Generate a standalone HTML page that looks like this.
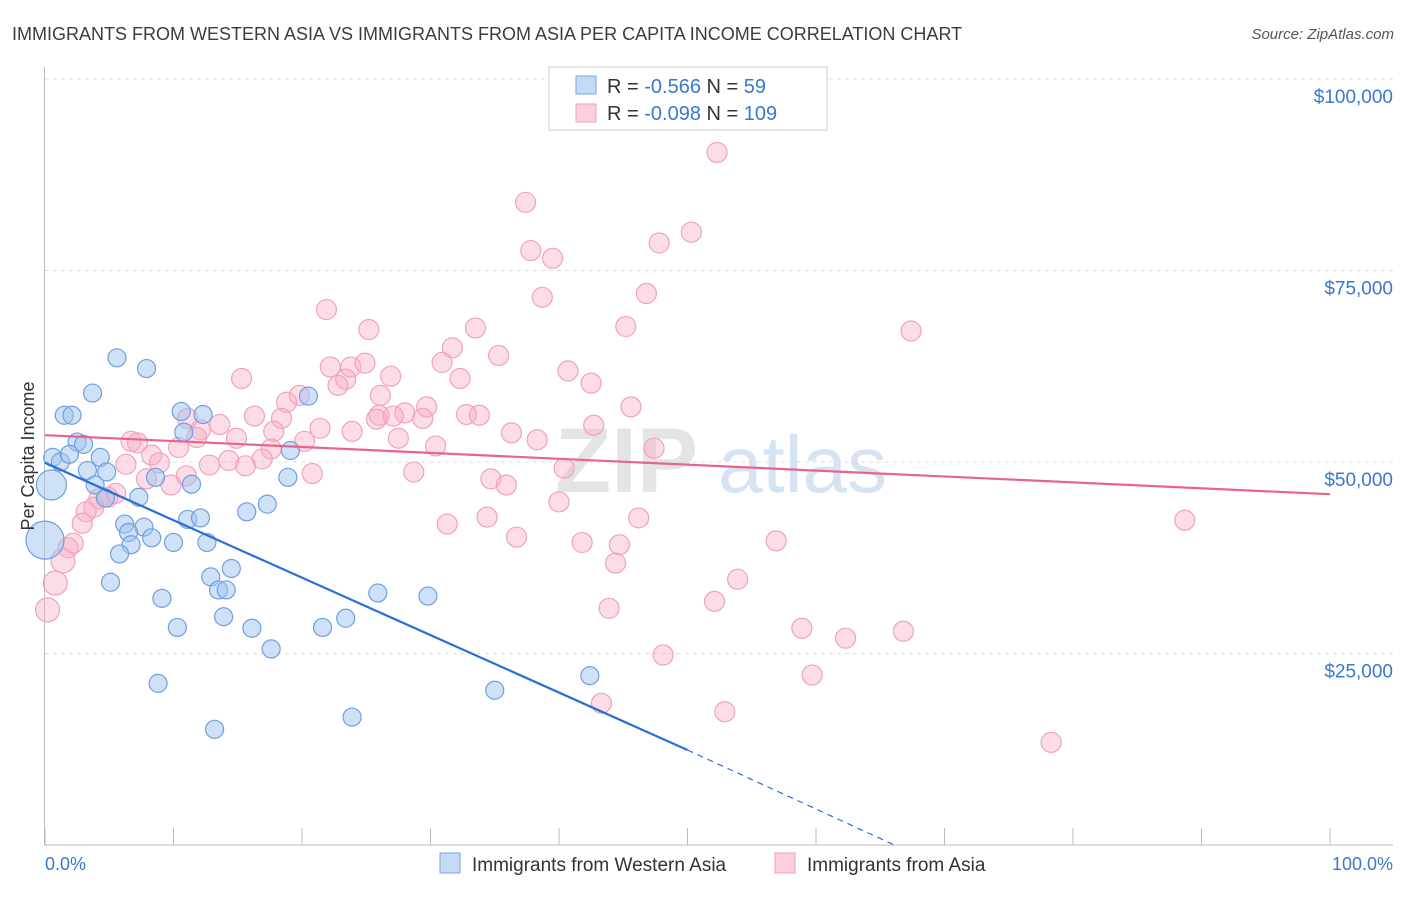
<!DOCTYPE html>
<html><head><meta charset="utf-8"><style>
body{margin:0;background:#fff;font-family:"Liberation Sans",sans-serif;}
svg text{font-family:"Liberation Sans",sans-serif;}
</style></head><body>
<svg id="chart" width="1406" height="892" xmlns="http://www.w3.org/2000/svg">
<text x="12" y="40" font-size="18" fill="#3c3c3c">IMMIGRANTS FROM WESTERN ASIA VS IMMIGRANTS FROM ASIA PER CAPITA INCOME CORRELATION CHART</text>
<text x="1394" y="39" font-size="15" fill="#555" text-anchor="end" font-style="italic">Source: ZipAtlas.com</text>
<g>
<text x="555" y="492" font-size="92" fill="#e4e4e4" font-family="Liberation Serif" font-weight="bold">ZIP</text>
<text x="718" y="492" font-size="80" fill="#d6e3f3">atlas</text>
</g>
<g id="grid"></g>
<g id="axes"></g>
<g id="pts"></g>
<g id="trend"></g>
<text transform="translate(34,456) rotate(-90)" font-size="18" fill="#333" text-anchor="middle">Per Capita Income</text>
<text x="45" y="870" font-size="18" fill="#3a78d0">0.0%</text>
<text x="1393" y="870" font-size="18" fill="#3a78d0" text-anchor="end">100.0%</text>
<g>
<rect x="549" y="67" width="278" height="63" fill="#fff" stroke="#ccc"/>
<rect x="576" y="76" width="20" height="18" fill="#c5daf5" stroke="#7aa6e0"/>
<rect x="576" y="104" width="20" height="18" fill="#fbd0dc" stroke="#f0a0b8"/>
<text x="607" y="93" font-size="20" fill="#333">R = <tspan fill="#3a78d0">-0.566</tspan>   N = <tspan fill="#3a78d0">  59</tspan></text>
<text x="607" y="120" font-size="20" fill="#333">R = <tspan fill="#3a78d0">-0.098</tspan>   N = <tspan fill="#3a78d0">109</tspan></text>
</g>
<g>
<rect x="440" y="853" width="20" height="20" fill="#c5daf5" stroke="#7aa6e0"/>
<text x="472" y="871" font-size="19" fill="#333">Immigrants from Western Asia</text>
<rect x="775" y="853" width="20" height="20" fill="#fbd0dc" stroke="#f0a0b8"/>
<text x="807" y="871" font-size="19" fill="#333">Immigrants from Asia</text>
</g>
</svg>
<script>
const yTicks=[25000,50000,75000,100000];
const yTickLabels=["$25,000","$50,000","$75,000","$100,000"];
const xTicks=[0,10,20,30,40,50,60,70,80,90,100];
const blueX=[5.6,7.9,3.7,1.5,2.1,10.6,12.3,20.5,2.5,3.0,0.6,1.2,1.9,4.3,4.8,3.3,10.8,19.1,18.9,8.6,11.4,0.5,3.9,4.7,7.3,17.3,15.7,11.1,12.1,6.2,7.7,6.5,8.3,6.7,10.0,12.6,0,5.8,5.1,12.9,14.5,13.5,14.1,9.1,25.9,29.8,13.9,23.4,10.3,16.1,21.6,17.6,8.8,42.4,35.0,23.9,13.2];
const blueY=[63.6,62.2,59.0,56.1,56.1,56.6,56.2,58.6,52.6,52.3,50.6,50.0,51.0,50.6,48.7,48.9,53.9,51.5,48.0,48.0,47.1,47.0,47.0,45.3,45.4,44.5,43.5,42.5,42.7,41.9,41.5,40.8,40.1,39.2,39.5,39.5,39.8,38.0,34.3,35.0,36.1,33.3,33.3,32.2,32.9,32.5,29.8,29.6,28.4,28.3,28.4,25.6,21.1,22.1,20.2,16.7,15.1];
const blueR=[9,9,9,9,9,9,9,9,9,9,9,9,9,9,9,9,9,9,9,9,9,15,9,9,9,9,9,9,9,9,9,9,9,9,9,9,19,9,9,9,9,9,9,9,9,9,9,9,9,9,9,9,9,9,9,9,9];
const pinkX=[52.3,37.4,50.3,37.8,39.5,47.8,38.7,46.8,21.9,67.4,45.2,33.5,25.2,31.7,35.3,30.9,22.2,23.8,24.9,40.7,26.9,15.3,32.3,23.4,22.8,42.5,19.8,26.1,18.8,29.7,45.6,16.3,18.4,32.8,33.8,28.0,26.0,25.8,27.1,29.4,11.1,13.6,42.7,12.1,21.4,23.9,36.3,17.8,14.9,11.8,38.3,27.5,7.2,6.7,10.4,20.2,30.4,47.4,8.3,17.6,16.9,8.9,6.3,12.8,14.3,15.6,40.4,28.7,20.8,11.0,34.7,7.9,35.9,9.8,5.5,4.2,4.9,40.0,3.8,3.2,34.4,46.2,88.7,2.9,31.3,36.7,56.9,41.8,44.7,2.2,1.8,1.4,44.4,53.9,0.8,43.9,52.1,0.2,58.9,62.3,66.8,48.1,59.7,43.3,52.9,78.3];
const pinkY=[90.4,83.9,80.0,77.6,76.6,78.6,71.5,72.0,69.9,67.1,67.7,67.5,67.3,64.9,63.9,63.0,62.4,62.4,62.9,61.9,61.2,60.9,60.9,60.8,60.0,60.3,58.7,58.7,57.8,57.2,57.2,56.0,55.7,56.2,56.1,56.4,56.1,55.6,56.0,55.7,55.7,54.9,54.8,54.2,54.4,54.0,53.8,54.0,53.1,53.2,52.9,53.1,52.5,52.7,51.9,52.7,52.1,51.8,50.9,51.7,50.4,49.9,49.7,49.6,50.2,49.5,49.2,48.7,48.5,48.2,47.8,47.8,47.0,47.0,45.9,45.2,45.4,44.8,44.1,43.5,42.8,42.7,42.4,42.0,41.9,40.2,39.7,39.5,39.2,39.4,38.8,37.1,36.8,34.7,34.2,30.9,31.8,30.7,28.3,27.0,27.9,24.8,22.2,18.5,17.4,13.4];
const blueTrend=[49.9,12.4];   // value (k) at x=0 and x=50
const blueDashEnd=[66.1,0];
const pinkTrend=[53.5,45.8];   // value (k) at x=0 and x=100
const NS="http://www.w3.org/2000/svg";
const X=v=>45+v*12.85;
const Y=v=>845-v/25000*191.5;
const YK=v=>Y(v*1000);
function mk(tag,attrs,parent){const e=document.createElementNS(NS,tag);for(const k in attrs)e.setAttribute(k,attrs[k]);parent.appendChild(e);return e;}
const grid=document.getElementById('grid'),axes=document.getElementById('axes'),pts=document.getElementById('pts'),trend=document.getElementById('trend');
yTicks.forEach((t,i)=>{
  const l=mk('line',{x1:45,x2:1393,y1:Y(t),y2:Y(t),stroke:'#ddd','stroke-dasharray':'4,4'},grid);
  
  
  const tx=mk('text',{x:1393,y:Y(t)+24,'font-size':19,fill:'#3a78d0','text-anchor':'end'},axes);
  tx.textContent=yTickLabels[i];
  
  
});
const ya=mk('line',{x1:44.5,x2:44.5,y1:67,y2:845,stroke:'#bbb'},axes);


const xa=mk('line',{x1:44,x2:1393,y1:845,y2:845,stroke:'#bbb'},axes);


xTicks.forEach(t=>{
  const l=mk('line',{x1:X(t),x2:X(t),y1:828,y2:845,stroke:'#bbb'},axes);
  
  
});
pinkX.forEach((x,i)=>{
  const r=pinkX[i]<1.5?12:10;
  const c=mk('circle',{cx:X(x),cy:YK(pinkY[i]),r:r,fill:'rgba(248,175,198,0.42)',stroke:'#f0a3bb','stroke-width':1.2},pts);
  
  
});
blueX.forEach((x,i)=>{
  const c=mk('circle',{cx:X(x),cy:YK(blueY[i]),r:blueR[i],fill:'rgba(160,196,240,0.5)',stroke:'#6f9fe0','stroke-width':1.2},pts);
  
  
});
const bl=mk('line',{x1:X(0),y1:YK(blueTrend[0]),x2:X(50),y2:YK(blueTrend[1]),stroke:'#2a6fd6','stroke-width':2.2},trend);


const bd=mk('line',{x1:X(50),y1:YK(blueTrend[1]),x2:X(blueDashEnd[0]),y2:YK(blueDashEnd[1]),stroke:'#2a6fd6','stroke-width':1.2,'stroke-dasharray':'6,5'},trend);


const pl=mk('line',{x1:X(0),y1:YK(pinkTrend[0]),x2:X(100),y2:YK(pinkTrend[1]),stroke:'#e8648e','stroke-width':2.2},trend);


</script>
</body></html>
